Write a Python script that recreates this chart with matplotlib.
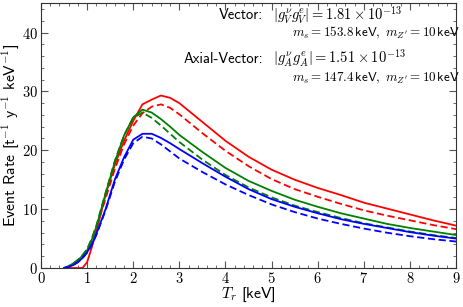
import matplotlib
matplotlib.use("Agg")
import matplotlib.pyplot as plt
from matplotlib.ticker import MultipleLocator

plt.rcParams['mathtext.fontset'] = 'cm'
plt.rcParams['axes.formatter.use_mathtext'] = True
plt.rcParams['font.family'] = ['cmr10', 'DejaVu Sans']
plt.rcParams['axes.unicode_minus'] = False

# recoil energy grid [keV]
T = [0.5, 0.6, 0.7, 0.8, 0.9, 1.0, 1.1, 1.2, 1.4, 1.6, 1.8, 2.0, 2.2, 2.4, 2.6, 2.8,
     3.0, 3.5, 4.0, 4.5, 5.0, 5.5, 6.0, 6.5, 7.0, 7.5, 8.0, 8.5, 9.0]

# event rates [t^-1 y^-1 keV^-1]
red_solid = [0.0, 0.0, 0.0, 0.0, 0.0, 1.0, 3.5, 6.2, 12.5, 17.5, 21.6, 25.0, 27.8, 28.6, 29.3, 28.9,
             28.0, 24.8, 21.6, 18.9, 16.7, 15.0, 13.6, 12.4, 11.1, 10.1, 9.1, 8.1, 7.2]
red_dashed = [0.0, 0.2, 0.6, 1.2, 2.0, 3.2, 4.8, 6.8, 11.8, 16.8, 21.0, 24.2, 26.3, 27.4, 27.8, 27.2,
              26.1, 22.9, 19.9, 17.3, 15.1, 13.4, 12.1, 10.9, 9.8, 8.9, 8.1, 7.3, 6.6]
green_solid = [0.0, 0.3, 0.8, 1.3, 2.1, 3.0, 4.8, 7.0, 12.6, 18.0, 22.5, 25.6, 26.9, 26.4, 25.3, 24.0,
               22.6, 19.7, 17.0, 14.8, 13.1, 11.6, 10.4, 9.3, 8.4, 7.5, 6.8, 6.2, 5.6]
green_dashed = [0.0, 0.3, 0.8, 1.4, 2.2, 3.2, 5.0, 7.2, 12.8, 18.2, 22.5, 25.5, 26.4, 25.5, 24.2, 22.8,
                21.4, 18.4, 15.8, 13.7, 12.0, 10.6, 9.5, 8.5, 7.6, 6.9, 6.2, 5.6, 5.1]
blue_solid = [0.0, 0.2, 0.5, 1.0, 1.7, 2.7, 4.0, 5.8, 10.0, 15.0, 18.8, 21.8, 22.8, 22.8, 22.1, 21.2,
              20.2, 17.8, 15.5, 13.4, 11.7, 10.4, 9.3, 8.3, 7.5, 6.8, 6.1, 5.5, 5.0]
blue_dashed = [0.0, 0.2, 0.5, 1.0, 1.7, 2.6, 3.9, 5.6, 9.8, 14.6, 18.4, 21.2, 22.3, 22.0, 21.0, 19.8,
               18.6, 16.3, 14.2, 12.4, 10.8, 9.5, 8.4, 7.5, 6.7, 6.0, 5.4, 4.9, 4.5]

fig = plt.figure(figsize=(4.63, 3.07), dpi=100)
ax = fig.add_axes([0.0886, 0.127, 0.8964, 0.863])

lw = 1.3
ax.plot(T, red_solid, color='#ff0000', lw=lw)
ax.plot(T, red_dashed, color='#ff0000', lw=lw, ls='--', dashes=(4, 2))
ax.plot(T, green_solid, color='#008000', lw=lw)
ax.plot(T, green_dashed, color='#008000', lw=lw, ls='--', dashes=(4, 2))
ax.plot(T, blue_solid, color='#0000ff', lw=lw)
ax.plot(T, blue_dashed, color='#0000ff', lw=lw, ls='--', dashes=(4, 2))

ax.set_xlim(0, 9)
ax.set_ylim(0, 45)
ax.xaxis.set_major_locator(MultipleLocator(1))
ax.xaxis.set_minor_locator(MultipleLocator(0.2))
ax.yaxis.set_major_locator(MultipleLocator(10))
ax.yaxis.set_minor_locator(MultipleLocator(2))
ax.tick_params(which='both', direction='in', top=True, right=True, labelsize=10.5, color='#555555')
ax.tick_params(which='major', length=5, pad=2)
ax.tick_params(which='minor', length=2.5)
for s in ax.spines.values():
    s.set_linewidth(0.8)
    s.set_color('#333333')

ax.set_xlabel(r'$T_r$ [keV]', fontsize=11.3, family='cmss10', labelpad=0)
ax.set_ylabel(r'Event Rate [t$^{-1}$ y$^{-1}$ keV$^{-1}$]', fontsize=11.3, family='cmss10')
ax.yaxis.set_label_coords(-0.048, 0.5)

fs = 10.5
fs2 = 9.4
ax.text(0.535, 0.938, 'Vector:', transform=ax.transAxes, family='cmss10', fontsize=fs, ha='right', va='baseline')
ax.text(0.559, 0.938, r'$|g_V^{\nu} g_V^{e}| = 1.81 \times 10^{-13}$', transform=ax.transAxes, fontsize=fs,
        va='baseline')
ax.text(0.605, 0.873, r'$m_s = 153.8\,\mathsf{keV},\ m_{Z^{\prime}} = 10\,\mathsf{keV}$', transform=ax.transAxes,
        fontsize=fs2, va='baseline')
ax.text(0.535, 0.772, 'Axial-Vector:', transform=ax.transAxes, family='cmss10', fontsize=fs, ha='right', va='baseline')
ax.text(0.559, 0.772, r'$|g_A^{\nu} g_A^{e}| = 1.51 \times 10^{-13}$', transform=ax.transAxes, fontsize=fs,
        va='baseline')
ax.text(0.605, 0.703, r'$m_s = 147.4\,\mathsf{keV},\ m_{Z^{\prime}} = 10\,\mathsf{keV}$', transform=ax.transAxes,
        fontsize=fs2, va='baseline')

fig.savefig('out.png', dpi=100)
